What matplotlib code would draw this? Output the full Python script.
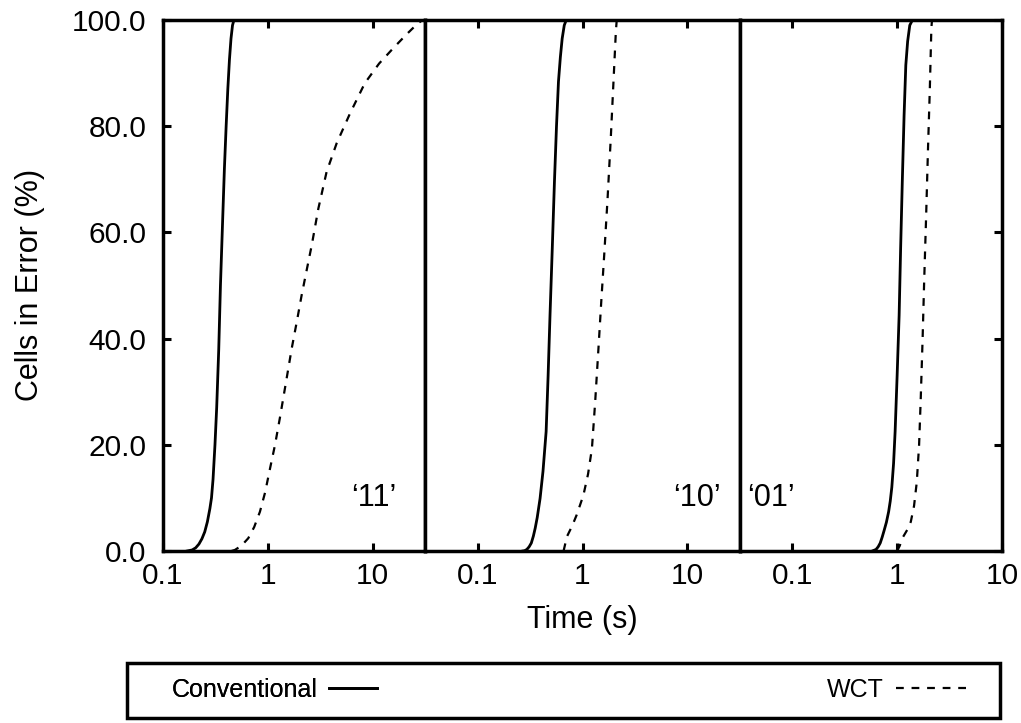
import matplotlib
matplotlib.use("Agg")
import matplotlib.pyplot as plt
from matplotlib.patches import Rectangle
from matplotlib.ticker import FixedLocator, FixedFormatter, NullLocator

plt.rcParams["font.family"] = ["Liberation Sans", "DejaVu Sans"]

# Panel states (cell data patterns)
states = ["\u201811\u2019", "\u201810\u2019", "\u201801\u2019"]

# State '11'
conv_11_t = [0.17, 0.19, 0.205, 0.22, 0.235, 0.25, 0.265, 0.28, 0.29, 0.30, 0.313, 0.325,
             0.34, 0.353, 0.37, 0.385, 0.40, 0.415, 0.43, 0.445, 0.46, 0.475]
conv_11_pct = [0, 0.2, 0.6, 1.3, 2.3, 3.6, 5.5, 8, 10, 13.5, 20, 27,
               38, 50, 62, 72, 80, 87, 92.5, 96.5, 99, 100]
wct_11_t = [0.45, 0.485, 0.56, 0.65, 0.74, 0.84, 0.94, 1.05, 1.17, 1.30, 1.48, 1.69, 1.9,
            2.1, 2.35, 2.62, 3.03, 3.63, 4.53, 6.07, 8.4, 11.5, 15.7, 21.0, 27.0, 30.0]
wct_11_pct = [0, 0.2, 1.0, 2.4, 4.5, 7.4, 11, 15.6, 20, 25, 31.5, 38.2, 43.5,
              48.2, 53, 57.6, 64.5, 71.4, 76.8, 82.4, 88.1, 91.8, 94.7, 97.3, 99.4, 100]

# State '10'
conv_10_t = [0.27, 0.28, 0.295, 0.31, 0.325, 0.34, 0.354, 0.37, 0.394, 0.42, 0.45, 0.47,
             0.49, 0.515, 0.54, 0.565, 0.59, 0.615, 0.64, 0.67, 0.70]
conv_10_pct = [0, 0.05, 0.3, 0.8, 1.5, 2.8, 4.3, 6.3, 9.9, 15, 22.5, 33,
               44.4, 57, 69.5, 80, 88.4, 93, 96.5, 99, 100]
wct_10_t = [0.66, 0.71, 0.80, 0.88, 1.02, 1.13, 1.23, 1.32, 1.42, 1.51, 1.61, 1.73,
            1.86, 1.97, 2.08, 2.12]
wct_10_pct = [0, 2.7, 4.8, 6.8, 10.5, 14.5, 19.3, 28, 38.2, 47, 55.7, 66,
              77.7, 88, 97.8, 100]

# State '01'
conv_01_t = [0.58, 0.63, 0.66, 0.69, 0.72, 0.75, 0.79, 0.83, 0.86, 0.89, 0.925, 0.957,
             1.0, 1.045, 1.08, 1.12, 1.165, 1.21, 1.26, 1.32, 1.40]
conv_01_pct = [0, 0.3, 0.8, 1.5, 2.6, 3.8, 5.4, 7.4, 9.4, 12, 16.5, 22.5,
               33, 44.4, 57, 69.5, 82, 91.5, 96, 99, 100]
wct_01_t = [1.0, 1.06, 1.12, 1.25, 1.35, 1.45, 1.54, 1.62, 1.68, 1.75, 1.81, 1.89,
            1.97, 2.05, 2.12, 2.15]
wct_01_pct = [0, 1.0, 2.4, 4.0, 5.5, 8.5, 13, 20, 28.8, 40, 50.7, 63,
              75.8, 87, 98.4, 100]

x_ticks = [0.1, 1, 10]
x_tick_labels = ["0.1", "1", "10"]
y_ticks = [0, 20, 40, 60, 80, 100]
y_tick_labels = ["0.0", "20.0", "40.0", "60.0", "80.0", "100.0"]

panels = [
    (conv_11_t, conv_11_pct, wct_11_t, wct_11_pct, (0.1, 10 ** 1.5)),
    (conv_10_t, conv_10_pct, wct_10_t, wct_10_pct, (10 ** -1.5, 10 ** 1.5)),
    (conv_01_t, conv_01_pct, wct_01_t, wct_01_pct, (10 ** -1.5, 10)),
]
label_pos = [(0.805, 0.10), (0.865, 0.10), (0.12, 0.10)]

W, H = 1021, 723
fig = plt.figure(figsize=(W / 100, H / 100), dpi=100)
gs = fig.add_gridspec(1, 3, width_ratios=[2.5, 3, 2.5], wspace=0,
                      left=163 / W, right=1002 / W, top=1 - 20 / H, bottom=1 - 551 / H)

spine_lw = 2.5
tick_fs = 21.5
label_fs = 22
handles = None
for i, (ct, cp, wt, wp, xlim) in enumerate(panels):
    ax = fig.add_subplot(gs[0, i])
    ax.set_xscale("log")
    ax.set_xlim(*xlim)
    ax.set_ylim(0, 100)
    l1, = ax.plot(ct, cp, color="black", lw=2.0, solid_joinstyle="round")
    l2, = ax.plot(wt, wp, color="black", lw=1.6, dashes=(3.5, 3.5))
    if handles is None:
        handles = [l1, l2]
    ax.xaxis.set_major_locator(FixedLocator(x_ticks))
    ax.xaxis.set_major_formatter(FixedFormatter(x_tick_labels))
    ax.xaxis.set_minor_locator(NullLocator())
    ax.tick_params(axis="x", which="major", direction="in", top=True, bottom=True,
                   length=6, width=2.2, pad=8, labelsize=tick_fs)
    ax.yaxis.set_major_locator(FixedLocator(y_ticks))
    ax.yaxis.set_minor_locator(NullLocator())
    if i == 0:
        ax.yaxis.set_major_formatter(FixedFormatter(y_tick_labels))
        ax.tick_params(axis="y", direction="in", left=True, right=False,
                       length=6, width=2.2, pad=12, labelsize=tick_fs)
    elif i == 2:
        ax.tick_params(axis="y", direction="in", left=False, right=True,
                       labelleft=False, length=6, width=2.2)
    else:
        ax.tick_params(axis="y", left=False, right=False, labelleft=False)
    for s in ax.spines.values():
        s.set_linewidth(spine_lw)
    ax.text(label_pos[i][0], label_pos[i][1], states[i], transform=ax.transAxes,
            ha="center", va="center", fontsize=label_fs)

fig.text(30 / W, 1 - 285 / H, "Cells in Error (%)", rotation=90,
         ha="center", va="center", fontsize=label_fs)
fig.text(582 / W, 1 - 620 / H, "Time (s)", ha="center", va="center", fontsize=label_fs)

# Key box spanning the lower part of the figure
fig.patches.append(Rectangle((127 / W, 1 - 718 / H), (1000 - 127) / W, 55 / H,
                             transform=fig.transFigure, fill=False,
                             edgecolor="black", linewidth=spine_lw))
leg1 = fig.legend([handles[0]], ["Conventional"], markerfirst=False,
                  loc="center left", bbox_to_anchor=(172 / W, 1 - 690 / H),
                  frameon=False, handlelength=1.9, handletextpad=0.45,
                  borderpad=0, borderaxespad=0, fontsize=18)
fig.add_artist(leg1)
fig.legend([handles[1]], ["WCT"], markerfirst=False,
           loc="center right", bbox_to_anchor=(968 / W, 1 - 690 / H),
           frameon=False, handlelength=2.9, handletextpad=0.45,
           borderpad=0, borderaxespad=0, fontsize=18)

fig.savefig("out.png", dpi=100)
